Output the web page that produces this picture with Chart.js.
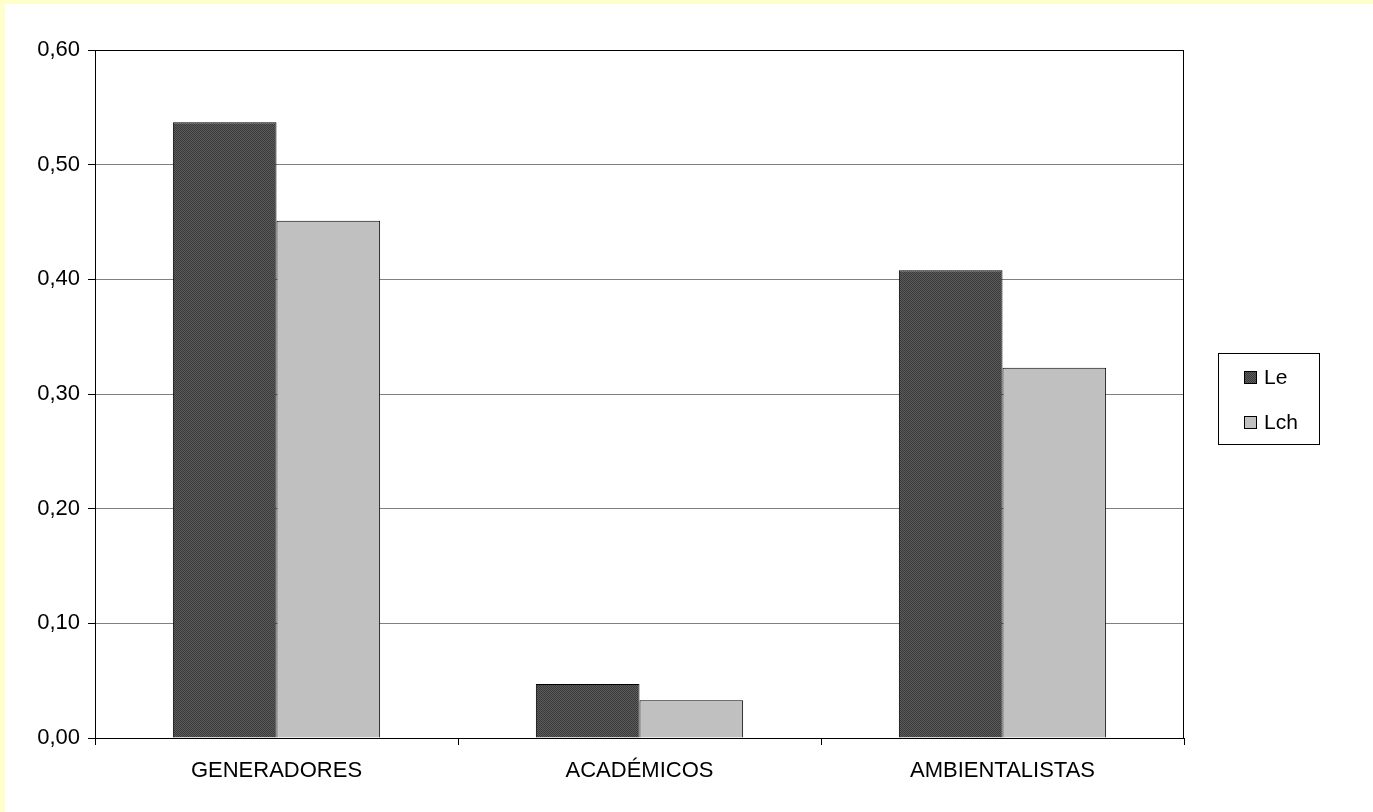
<!DOCTYPE html>
<html>
<head>
<meta charset="utf-8">
<script src="https://cdn.jsdelivr.net/npm/chart.js@4/dist/chart.umd.min.js"></script>
<style>
	html, body { margin: 0; padding: 0; background: #FFFFCC; width: 1373px; height: 812px; overflow: hidden; }
	#chart { position: absolute; left: 5px; top: 4px; background: #FFFFFF; }
</style>
</head>
<body>
<canvas id="chart" width="1368" height="808"></canvas>
<script>
const categories = ['GENERADORES', 'ACADÉMICOS', 'AMBIENTALISTAS']; // Groups on the x-axis
const seriesLe = [0.537, 0.047, 0.408]; // Dark bars
const seriesLch = [0.451, 0.033, 0.323]; // Light bars
const seriesNames = ['Le', 'Lch'];
const yMin = 0, yMax = 0.6, yStep = 0.1;
const textColor = '#000000';
const fontFamily = '"Liberation Sans", Arial, sans-serif';
Chart.defaults.font.family = fontFamily;
Chart.defaults.font.size = 22;
Chart.defaults.color = textColor;

// Fine dotted texture for the dark series
function makeHatch() {
	let c = document.createElement('canvas');
	c.width = 4;
	c.height = 4;
	let g = c.getContext('2d');
	g.fillStyle = '#3a3a3a';
	g.fillRect(0, 0, 4, 4);
	g.fillStyle = '#5c5c5c';
	for (let i = 0; i < 4; i++) {
		g.fillRect(i, i, 1, 1);
		g.fillRect((i + 2) % 4, i, 1, 1);
	}
	return g.createPattern(c, 'repeat');
}
const darkFill = makeHatch();

// Box round the plot area
const frame = {
	id: 'frame',
	afterDraw(chart) {
		let a = chart.chartArea, ctx = chart.ctx;
		ctx.save();
		ctx.strokeStyle = '#000000';
		ctx.lineWidth = 1;
		ctx.strokeRect(Math.round(a.left) + 0.5, Math.round(a.top) + 0.5, Math.round(a.right - a.left) - 1, Math.round(a.bottom - a.top));
		ctx.restore();
	}
};

// Legend in a bordered box, right of the plot
const boxLegend = {
	id: 'boxLegend',
	afterDraw(chart) {
		let ctx = chart.ctx;
		let x = 1213, y = 349, w = 101, h = 91;
		ctx.save();
		ctx.fillStyle = '#FFFFFF';
		ctx.fillRect(x, y, w, h);
		ctx.strokeStyle = '#000000';
		ctx.lineWidth = 1;
		ctx.strokeRect(x + 0.5, y + 0.5, w, h);
		ctx.font = '21px ' + fontFamily;
		ctx.textBaseline = 'middle';
		chart.data.datasets.forEach(function (ds, i) {
			let cy = 373 + i * 45;
			ctx.fillStyle = ds.backgroundColor;
			ctx.fillRect(1239, cy - 6, 13, 13);
			ctx.strokeStyle = '#000000';
			ctx.strokeRect(1239.5, cy - 5.5, 12, 12);
			ctx.fillStyle = textColor;
			ctx.fillText(ds.label, 1259, cy + 1);
		});
		ctx.restore();
	}
};

new Chart('chart', {
	type: 'bar',
	data: {
		labels: categories,
		datasets: [{
			label: seriesNames[0],
			data: seriesLe,
			backgroundColor: darkFill,
			borderColor: '#000000',
			borderWidth: 1
		}, {
			label: seriesNames[1],
			data: seriesLch,
			backgroundColor: '#C0C0C0',
			borderColor: '#000000',
			borderWidth: 1
		}]
	},
	options: {
		responsive: false,
		animation: false,
		layout: {
			padding: { left: 0, top: 46, right: 189, bottom: 0 }
		},
		datasets: {
			bar: { categoryPercentage: 0.571, barPercentage: 1.0 }
		},
		plugins: {
			legend: { display: false },
			tooltip: { enabled: false }
		},
		scales: {
			x: {
				offset: true,
				afterFit(scale) { scale.height = 74; },
				grid: {
					display: true,
					drawOnChartArea: false,
					offset: true,
					tickLength: 7,
					tickColor: '#000000'
				},
				border: { color: '#000000' },
				ticks: { padding: 13, color: textColor, maxRotation: 0, font: { size: 22 } }
			},
			y: {
				min: yMin,
				max: yMax,
				afterFit(scale) { scale.width = 90; },
				grid: {
					color: '#808080',
					tickLength: 7,
					tickColor: '#000000'
				},
				border: { color: '#000000' },
				ticks: {
					stepSize: yStep,
					padding: 8,
					color: textColor,
					font: { size: 22 },
					callback: function (v) { return v.toFixed(2).replace('.', ','); }
				}
			}
		}
	},
	plugins: [frame, boxLegend]
});
</script>
</body>
</html>
